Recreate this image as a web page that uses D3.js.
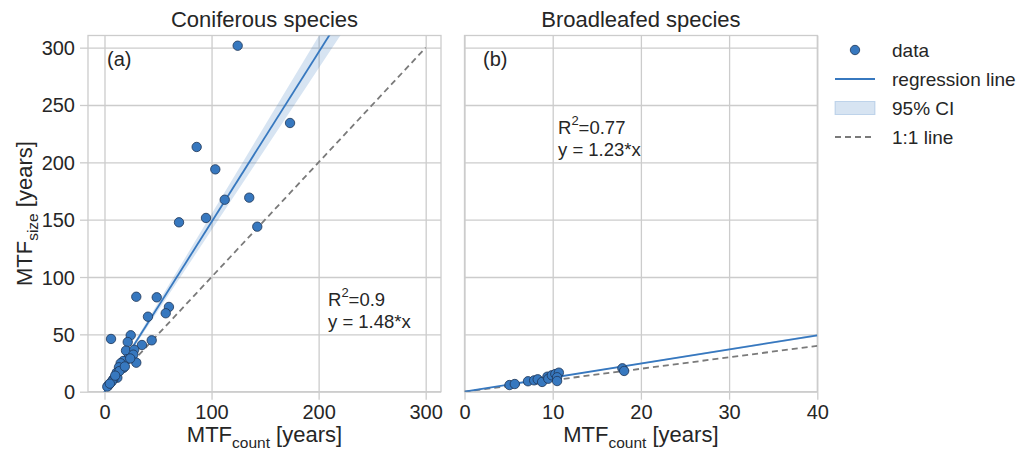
<!DOCTYPE html>
<html><head><meta charset="utf-8">
<script src="https://cdn.jsdelivr.net/npm/d3@7"></script>
<style>
body{margin:0;background:#fff;}
svg text{font-family:"Liberation Sans",Arial,sans-serif;fill:#262626;}
</style></head>
<body><svg id="c" width="1034" height="450"></svg>
<script>
// ---- data ----
const conifX = [124.4,86.1,103.5,112.3,135.2,94.8,69.6,142.7,173.3,29.7,48.8,60.2,57.2,40.6,6.1,24.5,21.7,44.1,35.0,20.1,27.8,26.9,29.7,21.3,17.6,15.1,17.6,13.5,11.4,12.0,8.2,6.7,3.9,2.6,14,10,19,24,5];
const conifY = [301.7,213.4,193.9,167.4,169.2,151.5,147.7,143.9,234.3,82.8,82.3,73.9,68.4,65.4,46.0,49.2,43.3,44.8,40.7,35.8,36.6,32.3,25.3,28.3,26.8,24.8,20.7,21.3,16.6,12.2,10.8,8.7,5.8,4.4,18,14,22,29,7];
const broadX = [5.1,5.7,7.2,7.9,8.3,8.8,9.4,9.5,9.9,10.3,10.7,10.5,10.5,17.9,18.1];
const broadY = [5.8,6.7,9.1,9.9,10.8,8.5,13.1,11.3,14.3,15.4,16.6,12.6,9.3,20.4,18.1];
const slopes = [1.48, 1.23];
const ciLow = [1.41, 1.205];
const ciHigh = [1.55, 1.255];
const r2Labels = ["0.9", "0.77"];
const eqLabels = ["y = 1.48*x", "y = 1.23*x"];
const panelTitles = ["Coniferous species", "Broadleafed species"];
const panelTags = ["(a)", "(b)"];
const xTicksL = [0,100,200,300];
const xTicksR = [0,10,20,30,40];
const yTicks = [0,50,100,150,200,250,300];
const legendLabels = ["data","regression line","95% CI","1:1 line"];

// ---- style ----
const blue = "#3778bf", gridC = "#cccccc", txt = "#262626";
const svg = d3.select("#c");
const yTop = 35.5, yBot = 391.7;
const y = d3.scaleLinear([0,310.6],[yBot,yTop]);
const panels = [
  {x: d3.scaleLinear([-15.4,314.3],[88,441]), xs: conifX, ys: conifY, ticks: xTicksL, oneMax: 300, tag:[107,66], ann:[328,306]},
  {x: d3.scaleLinear([0,40],[464.5,817.3]), xs: broadX, ys: broadY, ticks: xTicksR, oneMax: 40, tag:[483,66], ann:[558,134]}
];

panels.forEach((p,i)=>{
  const [x0,x1] = p.x.range();
  const g = svg.append("g");
  const cid = "clip"+i;
  svg.append("clipPath").attr("id",cid).append("rect").attr("x",x0).attr("y",yTop).attr("width",x1-x0).attr("height",yBot-yTop);
  const gx = g.append("g").attr("transform",`translate(0,${yBot})`)
    .call(d3.axisBottom(p.x).tickValues(p.ticks).tickSize(-(yBot-yTop)).tickPadding(0).tickFormat(""));
  gx.select(".domain").remove();
  gx.selectAll("line").attr("stroke",gridC).attr("stroke-width",1.3);
  const gx2 = g.append("g").attr("transform",`translate(0,${yBot})`)
    .call(d3.axisBottom(p.x).tickValues(p.ticks).tickSize(8).tickPadding(6));
  gx2.select(".domain").remove();
  gx2.selectAll("line").attr("stroke",gridC).attr("stroke-width",1.3);
  gx2.selectAll("text").attr("font-size",20).style("fill",txt).attr("dy","0.72em").attr("y",12.6);
  const gy = g.append("g").attr("transform",`translate(${x0},0)`)
    .call(d3.axisLeft(y).tickValues(yTicks).tickSize(-(x1-x0)).tickFormat(""));
  gy.select(".domain").remove();
  gy.selectAll("line").attr("stroke",gridC).attr("stroke-width",1.3);
  if(i===0){
    const gy2 = g.append("g").attr("transform",`translate(${x0},0)`)
      .call(d3.axisLeft(y).tickValues(yTicks).tickSize(8).tickPadding(5));
    gy2.select(".domain").remove();
    gy2.selectAll("line").attr("stroke",gridC).attr("stroke-width",1.3);
    gy2.selectAll("text").attr("font-size",20).style("fill",txt).attr("dy","0.35em");
  }
  g.append("rect").attr("x",x0).attr("y",yTop).attr("width",x1-x0).attr("height",yBot-yTop)
    .attr("fill","none").attr("stroke",gridC).attr("stroke-width",1.3);

  const dom = p.x.domain();
  const xs = [Math.min(0,dom[0]), dom[1]];
  const plot = g.append("g").attr("clip-path",`url(#${cid})`);
  plot.append("path").datum(xs)
    .attr("d", d3.area().x(d=>p.x(d)).y0(d=>y(ciLow[i]*d)).y1(d=>y(ciHigh[i]*d)))
    .attr("fill",blue).attr("fill-opacity",0.2).attr("stroke","none");
  plot.append("path").datum([0,p.oneMax])
    .attr("d", d3.line().x(d=>p.x(d)).y(d=>y(d)))
    .attr("stroke","#7a7a7a").attr("stroke-width",1.8).attr("stroke-dasharray","6,4").attr("fill","none");
  plot.append("path").datum(xs)
    .attr("d", d3.line().x(d=>p.x(d)).y(d=>y(slopes[i]*d)))
    .attr("stroke",blue).attr("stroke-width",1.8).attr("fill","none");
  plot.selectAll("circle").data(p.xs.map((v,k)=>[v,p.ys[k]])).join("circle")
    .attr("cx",d=>p.x(d[0])).attr("cy",d=>y(d[1])).attr("r",4.7)
    .attr("fill",blue).attr("stroke","#1e3555").attr("stroke-width",0.8);

  svg.append("text").attr("x",(x0+x1)/2).attr("y",27).attr("text-anchor","middle")
    .attr("font-size",22).text(panelTitles[i]);
  svg.append("text").attr("x",p.tag[0]).attr("y",p.tag[1]).attr("font-size",20).text(panelTags[i]);
  const a = svg.append("text").attr("x",p.ann[0]).attr("y",p.ann[1]).attr("font-size",18.5);
  a.append("tspan").text("R");
  a.append("tspan").attr("dy",-9).attr("font-size",13).text("2");
  a.append("tspan").attr("dy",9).text("="+r2Labels[i]);
  svg.append("text").attr("x",p.ann[0]).attr("y",p.ann[1]+22).attr("font-size",18.5).text(eqLabels[i]);
  const xl = svg.append("text").attr("x",(x0+x1)/2).attr("y",441.5).attr("text-anchor","middle").attr("font-size",22);
  xl.append("tspan").text("MTF");
  xl.append("tspan").attr("dy",6).attr("font-size",15.5).text("count");
  xl.append("tspan").attr("dy",-6).text(" [years]");
});

const yl = svg.append("text").attr("transform",`translate(32,${(yTop+yBot)/2}) rotate(-90)`)
  .attr("text-anchor","middle").attr("font-size",22);
yl.append("tspan").text("MTF");
yl.append("tspan").attr("dy",6).attr("font-size",15.5).text("size");
yl.append("tspan").attr("dy",-6).text(" [years]");

const lg = svg.append("g");
const lx = 835, lw = 40, tx = 892, rows = [50,79,108,137];
lg.append("circle").attr("cx",lx+lw/2).attr("cy",rows[0]).attr("r",4.7)
  .attr("fill",blue).attr("stroke","#1e3555").attr("stroke-width",0.8);
lg.append("line").attr("x1",lx).attr("x2",lx+lw).attr("y1",rows[1]).attr("y2",rows[1])
  .attr("stroke",blue).attr("stroke-width",1.8);
lg.append("rect").attr("x",lx).attr("y",rows[2]-6.5).attr("width",lw).attr("height",13)
  .attr("fill",blue).attr("fill-opacity",0.2).attr("stroke",blue).attr("stroke-opacity",0.25);
lg.append("line").attr("x1",lx).attr("x2",lx+lw).attr("y1",rows[3]).attr("y2",rows[3])
  .attr("stroke","#7a7a7a").attr("stroke-width",1.8).attr("stroke-dasharray","6,4");
lg.selectAll("text.l").data(legendLabels).join("text").attr("class","l")
  .attr("x",tx).attr("y",(d,k)=>rows[k]+6.5).attr("font-size",19).text(d=>d);
</script></body></html>
